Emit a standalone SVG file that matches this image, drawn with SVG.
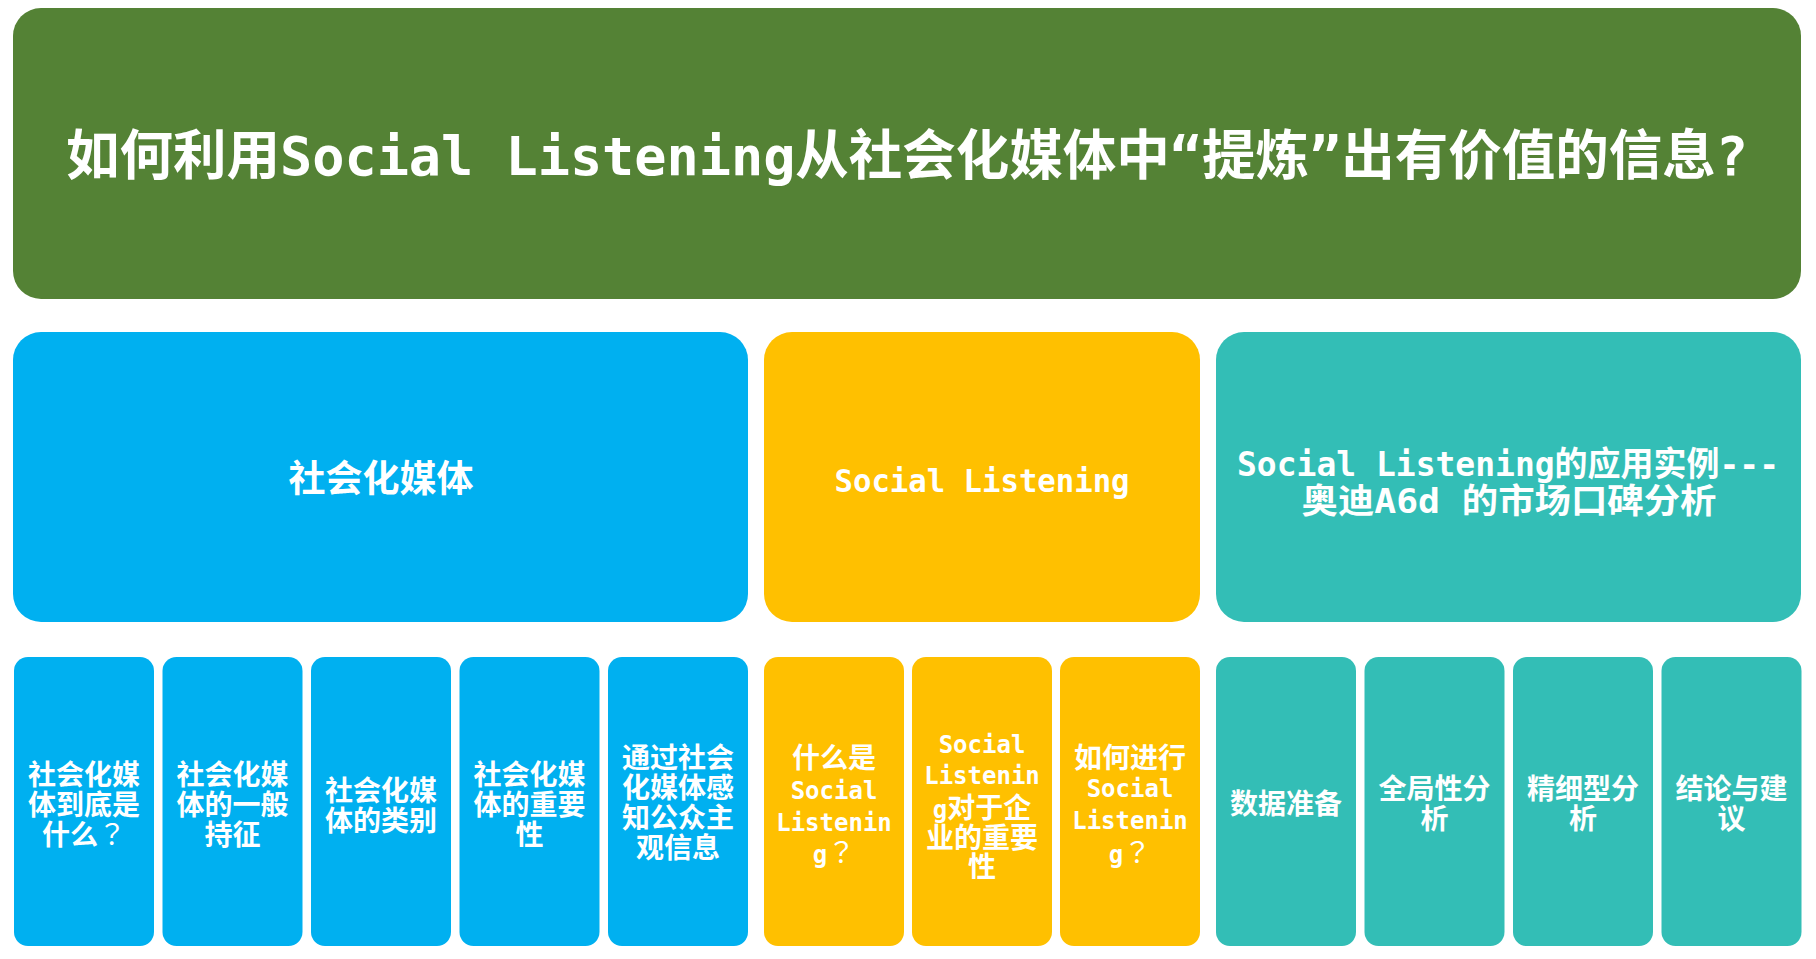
<svg xmlns="http://www.w3.org/2000/svg" width="1816" height="959" viewBox="0 0 1816 959">
<style>
.bg{fill:#ffffff}
.green{fill:#548235}
.blue{fill:#00B0F0}
.yellow{fill:#FFC000}
.teal{fill:#33BEB6}
text{fill:#ffffff;font-family:"DejaVu Sans Mono","Noto Sans CJK SC",monospace;font-weight:bold;text-anchor:middle}
.title{font-size:54px}
.big{font-size:37px}
.bigl{font-size:32px}
.mid{font-size:34px}
.s{font-size:28px}
.l{font-size:24px}
.q{font-family:"Noto Sans CJK TC","Noto Sans CJK SC",sans-serif;font-weight:normal}
</style>
<rect class="bg" x="0" y="0" width="1816" height="959"/>
<g id="connectors"/>
<g id="title">
<rect class="green" x="13" y="8" width="1788" height="291" rx="28"/>
<text class="title" x="907" y="175" textLength="1682" lengthAdjust="spacingAndGlyphs">如何利用Social Listening从社会化媒体中“提炼”出有价值的信息?</text>
</g>
<g id="social-media">
<rect class="blue" x="13" y="332" width="735" height="290" rx="28"/>
<text class="big" x="381" y="492">社会化媒体</text>
</g>
<g id="social-listening">
<rect class="yellow" x="764" y="332" width="436" height="290" rx="28"/>
<text class="bigl" x="982" y="492" textLength="295" lengthAdjust="spacingAndGlyphs">Social Listening</text>
</g>
<g id="case">
<rect class="teal" x="1216" y="332" width="585" height="290" rx="28"/>
<text class="mid" x="1508" y="476" textLength="542" lengthAdjust="spacingAndGlyphs">Social Listening的应用实例---</text>
<text class="mid" x="1509" y="513" textLength="415" lengthAdjust="spacingAndGlyphs">奥迪A6d 的市场口碑分析</text>
</g>
<g id="b1">
<rect class="blue" x="14" y="657" width="140" height="289" rx="14"/>
<text class="s" x="84" y="785">社会化媒</text>
<text class="s" x="84" y="815">体到底是</text>
<text class="s" x="84" y="845">什么<tspan class="q">？</tspan></text>
</g>
<g id="b2">
<rect class="blue" x="162.5" y="657" width="140" height="289" rx="14"/>
<text class="s" x="232.5" y="785">社会化媒</text>
<text class="s" x="232.5" y="815">体的一般</text>
<text class="s" x="232.5" y="845">持征</text>
</g>
<g id="b3">
<rect class="blue" x="311" y="657" width="140" height="289" rx="14"/>
<text class="s" x="381" y="801">社会化媒</text>
<text class="s" x="381" y="831">体的类别</text>
</g>
<g id="b4">
<rect class="blue" x="459.5" y="657" width="140" height="289" rx="14"/>
<text class="s" x="529.5" y="785">社会化媒</text>
<text class="s" x="529.5" y="815">体的重要</text>
<text class="s" x="529.5" y="845">性</text>
</g>
<g id="b5">
<rect class="blue" x="608" y="657" width="140" height="289" rx="14"/>
<text class="s" x="678" y="768">通过社会</text>
<text class="s" x="678" y="798">化媒体感</text>
<text class="s" x="678" y="828">知公众主</text>
<text class="s" x="678" y="858">观信息</text>
</g>
<g id="y1">
<rect class="yellow" x="764" y="657" width="140" height="289" rx="14"/>
<text class="s" x="834" y="768">什么是</text>
<text class="l" x="834" y="799">Social</text>
<text class="l" x="834" y="831">Listenin</text>
<text class="s" x="834" y="863"><tspan class="l">g</tspan><tspan class="q">？</tspan></text>
</g>
<g id="y2">
<rect class="yellow" x="912" y="657" width="140" height="289" rx="14"/>
<text class="l" x="982" y="753">Social</text>
<text class="l" x="982" y="784">Listenin</text>
<text class="s" x="982" y="818"><tspan class="l">g</tspan>对于企</text>
<text class="s" x="982" y="848">业的重要</text>
<text class="s" x="982" y="877">性</text>
</g>
<g id="y3">
<rect class="yellow" x="1060" y="657" width="140" height="289" rx="14"/>
<text class="s" x="1130" y="768">如何进行</text>
<text class="l" x="1130" y="797">Social</text>
<text class="l" x="1130" y="829">Listenin</text>
<text class="s" x="1130" y="863"><tspan class="l">g</tspan><tspan class="q">？</tspan></text>
</g>
<g id="t1">
<rect class="teal" x="1216" y="657" width="140" height="289" rx="14"/>
<text class="s" x="1286" y="814">数据准备</text>
</g>
<g id="t2">
<rect class="teal" x="1364.5" y="657" width="140" height="289" rx="14"/>
<text class="s" x="1434.5" y="799">全局性分</text>
<text class="s" x="1434.5" y="829">析</text>
</g>
<g id="t3">
<rect class="teal" x="1513" y="657" width="140" height="289" rx="14"/>
<text class="s" x="1583" y="799">精细型分</text>
<text class="s" x="1583" y="829">析</text>
</g>
<g id="t4">
<rect class="teal" x="1661.5" y="657" width="140" height="289" rx="14"/>
<text class="s" x="1731.5" y="799">结论与建</text>
<text class="s" x="1731.5" y="829">议</text>
</g>
</svg>
